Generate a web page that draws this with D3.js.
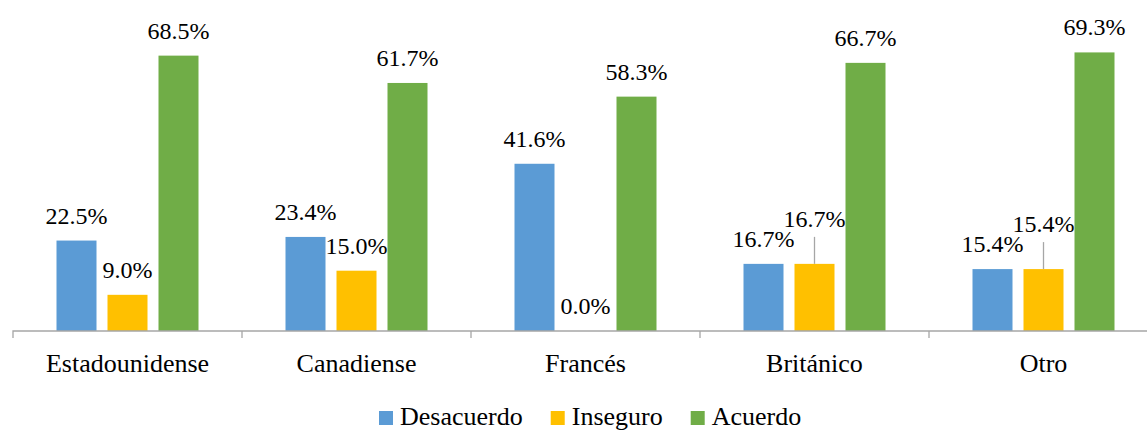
<!DOCTYPE html>
<html>
<head>
<meta charset="utf-8">
<script src="https://cdn.jsdelivr.net/npm/d3@7"></script>
<style>
  body { margin: 0; background: #fff; }
  svg { display: block; font-family: "Liberation Serif", "Times New Roman", serif; }
</style>
</head>
<body>
<div id="chart"></div>
<script>
// data
var categories = ['Estadounidense', 'Canadiense', 'Francés', 'Británico', 'Otro']
var seriesNames = ['Desacuerdo', 'Inseguro', 'Acuerdo']
var desacuerdo = [22.5, 23.4, 41.6, 16.7, 15.4]
var inseguro = [9.0, 15.0, 0.0, 16.7, 15.4]
var acuerdo = [68.5, 61.7, 58.3, 66.7, 69.3]
var colors = ['#5B9BD5', '#FFC000', '#70AD47']

// labels that excel pushed up with a leader line
var lifted = { 'Británico|Inseguro': 20, 'Otro|Inseguro': 20 }

var width = 1147
var height = 430
var baseY = 331

var svg = d3.select('#chart').append('svg')
  .attr('width', width)
  .attr('height', height)

var x = d3.scaleBand()
  .domain(categories)
  .range([13, 13 + 5 * 229])

var xInner = d3.scaleBand()
  .domain(seriesNames)
  .range([0, 142])
  .paddingInner(11 / 51)

var y = d3.scaleLinear()
  .domain([0, 80])
  .range([baseY, baseY - 80 * 4.02])

var values = [desacuerdo, inseguro, acuerdo]
var rows = []
categories.forEach(function (c, i) {
  seriesNames.forEach(function (s, j) {
    rows.push({ cat: c, series: s, value: values[j][i], color: colors[j] })
  })
})

function barX(d) {
  return x(d.cat) + (x.bandwidth() - 142) / 2 + xInner(d.series)
}

svg.selectAll('rect.bar')
  .data(rows)
  .enter()
  .append('rect')
  .attr('class', 'bar')
  .attr('x', barX)
  .attr('y', function (d) { return y(d.value) })
  .attr('width', xInner.bandwidth())
  .attr('height', function (d) { return baseY - y(d.value) })
  .attr('fill', function (d) { return d.color })

// axis
var axis = svg.append('g')
  .attr('transform', 'translate(0,' + baseY + ')')
  .call(d3.axisBottom(x).tickSize(0).tickFormat(''))
axis.select('.domain').attr('stroke', '#a6a6a6').attr('stroke-width', 1.3)
  .attr('d', 'M' + x.range()[0] + ',7V0H' + x.range()[1] + 'V7')

svg.append('g').selectAll('line')
  .data(categories.slice(1))
  .enter()
  .append('line')
  .attr('x1', function (d) { return x(d) })
  .attr('x2', function (d) { return x(d) })
  .attr('y1', baseY)
  .attr('y2', baseY + 7)
  .attr('stroke', '#a6a6a6')
  .attr('stroke-width', 1.3)

svg.append('g').selectAll('text')
  .data(categories)
  .enter()
  .append('text')
  .attr('x', function (d) { return x(d) + x.bandwidth() / 2 })
  .attr('y', 372)
  .attr('text-anchor', 'middle')
  .attr('font-size', 26)
  .attr('fill', '#000')
  .text(function (d) { return d })

// value labels
function lift(d) { return lifted[d.cat + '|' + d.series] || 0 }

svg.selectAll('line.leader')
  .data(rows.filter(function (d) { return lift(d) > 0 }))
  .enter()
  .append('line')
  .attr('class', 'leader')
  .attr('x1', function (d) { return barX(d) + xInner.bandwidth() / 2 })
  .attr('x2', function (d) { return barX(d) + xInner.bandwidth() / 2 })
  .attr('y1', function (d) { return y(d.value) })
  .attr('y2', function (d) { return y(d.value) - 17 - lift(d) + 10 })
  .attr('stroke', '#a6a6a6')
  .attr('stroke-width', 1.3)

svg.selectAll('text.val')
  .data(rows)
  .enter()
  .append('text')
  .attr('class', 'val')
  .attr('x', function (d) { return barX(d) + xInner.bandwidth() / 2 })
  .attr('y', function (d) { return y(d.value) - 17 - lift(d) })
  .attr('text-anchor', 'middle')
  .attr('font-size', 24)
  .attr('fill', '#000')
  .text(function (d) { return d.value.toFixed(1) + '%' })

// legend
var legend = svg.append('g').attr('transform', 'translate(0,425)')
var lx = 379
seriesNames.forEach(function (s, j) {
  legend.append('rect')
    .attr('x', lx)
    .attr('y', -14)
    .attr('width', 14)
    .attr('height', 14)
    .attr('fill', colors[j])
  var t = legend.append('text')
    .attr('x', lx + 21)
    .attr('y', 0)
    .attr('font-size', 26)
    .attr('fill', '#000')
    .text(s)
  lx = lx + 21 + t.node().getComputedTextLength() + 28
})
</script>
</body>
</html>
